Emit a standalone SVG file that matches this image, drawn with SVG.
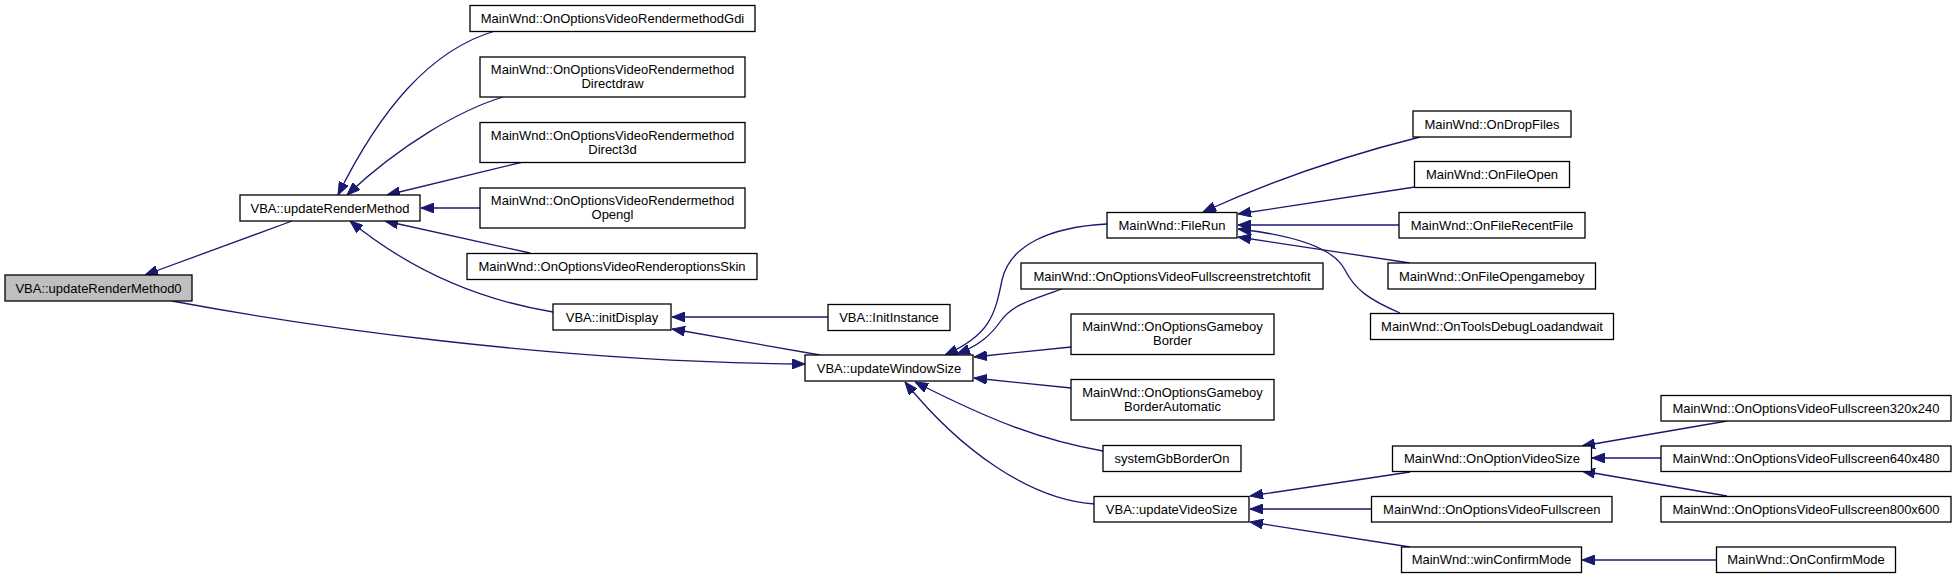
<svg xmlns="http://www.w3.org/2000/svg" width="1956" height="579" viewBox="0 0 1956 579">
<style>
.n rect{fill:#fff;stroke:#000;stroke-width:1.3}
.n text{font-family:"Liberation Sans",Arial,sans-serif;font-size:13px;text-anchor:middle;fill:#000}
#n0 rect{fill:#bfbfbf}
.e path{fill:none;stroke:#191970;stroke-width:1.3;marker-end:url(#ah)}
</style>
<defs>
<marker id="ah" viewBox="0 0 13 10" refX="13" refY="5" markerWidth="13" markerHeight="10" markerUnits="userSpaceOnUse" orient="auto">
<path d="M0,0 L13,5 L0,10 Z" fill="#191970" stroke="#191970" stroke-width="1"/>
</marker>
</defs>
<rect width="1956" height="579" fill="#fff"/>
<g id="connectors" class="e">
<path d="M292,221 L145,275"/>
<path d="M495,31 C430,50 380,110 338,195"/>
<path d="M503,97 C460,110 400,145 347,195"/>
<path d="M523,162 L387,195"/>
<path d="M480,208 L421,208"/>
<path d="M530,253 L385,221"/>
<path d="M553,312 C480,300 410,270 350,221"/>
<path d="M172,301 C300,325 550,362 805,364"/>
<path d="M828,317 L672,317"/>
<path d="M820,355 L672,329"/>
<path d="M1107,224 C1050,227 1010,245 1002,280 C995,315 990,335 945,355"/>
<path d="M1062,289 C1030,300 1012,305 1000,322 C990,336 978,346 957,354"/>
<path d="M1071,347 L974,357"/>
<path d="M1071,388 L974,378"/>
<path d="M1103,451 C1040,440 990,420 915,382"/>
<path d="M1095,504 C1030,500 960,450 905,382"/>
<path d="M1420,137 C1360,152 1280,177 1203,212"/>
<path d="M1415,187 L1238,214"/>
<path d="M1399,225 L1238,225"/>
<path d="M1410,263 L1238,237"/>
<path d="M1400,313 C1370,300 1355,290 1345,270 C1335,250 1300,236 1238,229"/>
<path d="M1410,472 L1250,496"/>
<path d="M1372,509 L1250,509"/>
<path d="M1410,547 L1250,522"/>
<path d="M1727,421 L1582,446"/>
<path d="M1661,458 L1592,458"/>
<path d="M1727,496 L1582,471"/>
<path d="M1716,560 L1582,560"/>
</g>
<g id="n0" class="n"><rect x="5" y="275" width="187" height="26"/><text x="98.5" y="292.5">VBA::updateRenderMethod0</text></g>
<g id="n1" class="n"><rect x="240" y="195" width="180" height="26"/><text x="330" y="212.5">VBA::updateRenderMethod</text></g>
<g id="n2" class="n"><rect x="470" y="5.5" width="285" height="26"/><text x="612.5" y="23">MainWnd::OnOptionsVideoRendermethodGdi</text></g>
<g id="n3" class="n"><rect x="480" y="57" width="265" height="40"/><text x="612.5" y="74">MainWnd::OnOptionsVideoRendermethod</text><text x="612.5" y="88">Directdraw</text></g>
<g id="n4" class="n"><rect x="480" y="122.5" width="265" height="40"/><text x="612.5" y="139.5">MainWnd::OnOptionsVideoRendermethod</text><text x="612.5" y="153.5">Direct3d</text></g>
<g id="n5" class="n"><rect x="480" y="188" width="265" height="40"/><text x="612.5" y="205">MainWnd::OnOptionsVideoRendermethod</text><text x="612.5" y="219">Opengl</text></g>
<g id="n6" class="n"><rect x="467" y="253.5" width="290" height="26"/><text x="612" y="271">MainWnd::OnOptionsVideoRenderoptionsSkin</text></g>
<g id="n7" class="n"><rect x="553" y="304" width="118" height="26"/><text x="612" y="321.5">VBA::initDisplay</text></g>
<g id="n8" class="n"><rect x="828" y="304.5" width="122" height="26"/><text x="889" y="322">VBA::InitInstance</text></g>
<g id="n9" class="n"><rect x="805" y="355" width="168" height="26"/><text x="889" y="372.5">VBA::updateWindowSize</text></g>
<g id="n10" class="n"><rect x="1107" y="212.5" width="130" height="25.5"/><text x="1172" y="229.5">MainWnd::FileRun</text></g>
<g id="n11" class="n"><rect x="1021" y="263" width="302" height="26"/><text x="1172" y="280.5">MainWnd::OnOptionsVideoFullscreenstretchtofit</text></g>
<g id="n12" class="n"><rect x="1071" y="314" width="203" height="40.5"/><text x="1172.5" y="331">MainWnd::OnOptionsGameboy</text><text x="1172.5" y="345">Border</text></g>
<g id="n13" class="n"><rect x="1071" y="379.5" width="203" height="40.5"/><text x="1172.5" y="396.5">MainWnd::OnOptionsGameboy</text><text x="1172.5" y="410.5">BorderAutomatic</text></g>
<g id="n14" class="n"><rect x="1103" y="445.5" width="138" height="26"/><text x="1172" y="463">systemGbBorderOn</text></g>
<g id="n15" class="n"><rect x="1094" y="496.5" width="155" height="25.5"/><text x="1171.5" y="513.5">VBA::updateVideoSize</text></g>
<g id="n16" class="n"><rect x="1413" y="111" width="158" height="26"/><text x="1492" y="128.5">MainWnd::OnDropFiles</text></g>
<g id="n17" class="n"><rect x="1414.5" y="161.5" width="155" height="26"/><text x="1492" y="179">MainWnd::OnFileOpen</text></g>
<g id="n18" class="n"><rect x="1399" y="212.5" width="186" height="25.5"/><text x="1492" y="229.5">MainWnd::OnFileRecentFile</text></g>
<g id="n19" class="n"><rect x="1388" y="263" width="207.5" height="26"/><text x="1491.75" y="280.5">MainWnd::OnFileOpengameboy</text></g>
<g id="n20" class="n"><rect x="1370.5" y="313.5" width="243" height="26"/><text x="1492" y="331">MainWnd::OnToolsDebugLoadandwait</text></g>
<g id="n21" class="n"><rect x="1392.5" y="446" width="199" height="25.5"/><text x="1492" y="463">MainWnd::OnOptionVideoSize</text></g>
<g id="n22" class="n"><rect x="1371.5" y="496.5" width="240.5" height="25.5"/><text x="1491.75" y="513.5">MainWnd::OnOptionsVideoFullscreen</text></g>
<g id="n23" class="n"><rect x="1401.5" y="547" width="180" height="25.5"/><text x="1491.5" y="564">MainWnd::winConfirmMode</text></g>
<g id="n24" class="n"><rect x="1661" y="395.5" width="290" height="25.5"/><text x="1806" y="412.5">MainWnd::OnOptionsVideoFullscreen320x240</text></g>
<g id="n25" class="n"><rect x="1661" y="446" width="290" height="25.5"/><text x="1806" y="463">MainWnd::OnOptionsVideoFullscreen640x480</text></g>
<g id="n26" class="n"><rect x="1661" y="496.5" width="290" height="25.5"/><text x="1806" y="513.5">MainWnd::OnOptionsVideoFullscreen800x600</text></g>
<g id="n27" class="n"><rect x="1716.5" y="547" width="179" height="25.5"/><text x="1806" y="564">MainWnd::OnConfirmMode</text></g>
</svg>
